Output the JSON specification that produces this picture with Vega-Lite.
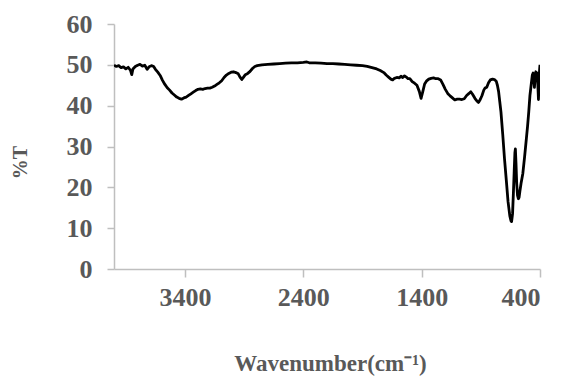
{
  "$schema": "https://vega.github.io/schema/vega-lite/v6.json",
  "width": 426,
  "height": 245,
  "autosize": "none",
  "padding": {"left": 114, "top": 24, "right": 21, "bottom": 107},
  "background": "white",
  "config": {"view": {"stroke": null}},
  "data": {"values": [
    {"wn":4000,"t":49.9},{"wn":3980,"t":49.6},{"wn":3960,"t":49.8},{"wn":3940,"t":49.3},{"wn":3920,"t":49.5},
    {"wn":3900,"t":49.0},{"wn":3880,"t":49.4},{"wn":3860,"t":48.6},{"wn":3850,"t":47.6},{"wn":3840,"t":49.0},
    {"wn":3820,"t":49.6},{"wn":3800,"t":49.9},{"wn":3780,"t":50.1},{"wn":3760,"t":49.7},{"wn":3740,"t":49.9},
    {"wn":3720,"t":48.9},{"wn":3700,"t":49.6},{"wn":3680,"t":49.8},{"wn":3665,"t":49.6},{"wn":3650,"t":48.9},
    {"wn":3630,"t":48.2},{"wn":3610,"t":47.4},{"wn":3590,"t":46.2},{"wn":3570,"t":45.2},{"wn":3550,"t":44.4},
    {"wn":3530,"t":43.8},{"wn":3510,"t":43.1},{"wn":3490,"t":42.6},{"wn":3470,"t":42.1},{"wn":3450,"t":41.8},
    {"wn":3430,"t":41.6},{"wn":3410,"t":41.9},{"wn":3390,"t":42.1},{"wn":3370,"t":42.5},{"wn":3350,"t":42.9},
    {"wn":3330,"t":43.3},{"wn":3310,"t":43.7},{"wn":3290,"t":44.0},{"wn":3270,"t":44.1},{"wn":3250,"t":44.0},
    {"wn":3230,"t":44.2},{"wn":3210,"t":44.3},{"wn":3190,"t":44.3},{"wn":3170,"t":44.5},{"wn":3150,"t":44.8},
    {"wn":3130,"t":45.2},{"wn":3110,"t":45.6},{"wn":3090,"t":46.1},{"wn":3070,"t":46.9},{"wn":3050,"t":47.5},
    {"wn":3030,"t":47.9},{"wn":3010,"t":48.2},{"wn":2990,"t":48.3},{"wn":2970,"t":48.1},{"wn":2950,"t":47.8},
    {"wn":2935,"t":47.0},{"wn":2920,"t":46.4},{"wn":2905,"t":47.0},{"wn":2890,"t":47.6},{"wn":2870,"t":47.9},
    {"wn":2850,"t":48.4},{"wn":2830,"t":49.1},{"wn":2810,"t":49.6},{"wn":2790,"t":49.8},{"wn":2750,"t":50.0},
    {"wn":2700,"t":50.1},{"wn":2650,"t":50.2},{"wn":2600,"t":50.3},{"wn":2550,"t":50.4},{"wn":2500,"t":50.5},
    {"wn":2450,"t":50.5},{"wn":2400,"t":50.6},{"wn":2370,"t":50.7},{"wn":2350,"t":50.5},{"wn":2300,"t":50.5},
    {"wn":2250,"t":50.4},{"wn":2200,"t":50.3},{"wn":2150,"t":50.3},{"wn":2100,"t":50.2},{"wn":2050,"t":50.1},
    {"wn":2000,"t":50.0},{"wn":1950,"t":49.9},{"wn":1900,"t":49.8},{"wn":1860,"t":49.6},{"wn":1820,"t":49.3},
    {"wn":1780,"t":49.0},{"wn":1750,"t":48.6},{"wn":1720,"t":48.1},{"wn":1700,"t":47.5},{"wn":1680,"t":47.0},
    {"wn":1660,"t":46.5},{"wn":1645,"t":46.3},{"wn":1630,"t":46.7},{"wn":1610,"t":46.9},{"wn":1590,"t":46.8},
    {"wn":1575,"t":47.2},{"wn":1560,"t":46.9},{"wn":1545,"t":47.3},{"wn":1530,"t":47.0},{"wn":1515,"t":46.6},
    {"wn":1500,"t":46.6},{"wn":1480,"t":45.9},{"wn":1460,"t":45.5},{"wn":1440,"t":45.0},{"wn":1420,"t":43.5},
    {"wn":1405,"t":41.8},{"wn":1390,"t":43.5},{"wn":1375,"t":45.3},{"wn":1360,"t":46.0},{"wn":1340,"t":46.5},
    {"wn":1320,"t":46.7},{"wn":1300,"t":46.8},{"wn":1280,"t":46.6},{"wn":1260,"t":46.6},{"wn":1240,"t":46.3},
    {"wn":1220,"t":45.2},{"wn":1200,"t":44.0},{"wn":1180,"t":43.0},{"wn":1160,"t":42.4},{"wn":1140,"t":41.9},
    {"wn":1120,"t":41.4},{"wn":1100,"t":41.6},{"wn":1080,"t":41.6},{"wn":1060,"t":41.5},{"wn":1040,"t":41.7},
    {"wn":1020,"t":42.5},{"wn":1000,"t":43.0},{"wn":985,"t":43.4},{"wn":970,"t":42.8},{"wn":950,"t":41.8},
    {"wn":935,"t":41.2},{"wn":920,"t":40.8},{"wn":905,"t":41.5},{"wn":890,"t":42.5},{"wn":875,"t":43.8},
    {"wn":865,"t":44.3},{"wn":850,"t":44.5},{"wn":835,"t":45.6},{"wn":820,"t":46.3},{"wn":800,"t":46.5},
    {"wn":785,"t":46.4},{"wn":770,"t":46.0},{"wn":760,"t":45.0},{"wn":750,"t":43.5},{"wn":740,"t":41.0},
    {"wn":730,"t":38.5},{"wn":715,"t":33.0},{"wn":700,"t":27.0},{"wn":685,"t":21.8},{"wn":670,"t":16.5},
    {"wn":655,"t":13.0},{"wn":645,"t":11.8},{"wn":640,"t":11.6},{"wn":632,"t":13.5},{"wn":625,"t":18.5},
    {"wn":618,"t":24.0},{"wn":612,"t":28.5},{"wn":608,"t":29.4},{"wn":603,"t":26.0},{"wn":597,"t":21.0},
    {"wn":590,"t":18.0},{"wn":583,"t":17.2},{"wn":577,"t":17.5},{"wn":570,"t":19.0},{"wn":560,"t":21.0},
    {"wn":545,"t":23.4},{"wn":530,"t":27.5},{"wn":515,"t":32.0},{"wn":505,"t":35.0},{"wn":495,"t":38.5},
    {"wn":485,"t":42.5},{"wn":475,"t":45.0},{"wn":465,"t":47.5},{"wn":458,"t":48.0},{"wn":452,"t":46.5},
    {"wn":447,"t":44.5},{"wn":441,"t":47.0},{"wn":435,"t":48.3},{"wn":430,"t":46.5},{"wn":424,"t":48.0},
    {"wn":418,"t":45.0},{"wn":413,"t":41.5},{"wn":408,"t":46.5},{"wn":403,"t":49.0},{"wn":400,"t":50.0}
  ]},
  "mark": {"type": "line", "color": "black", "strokeWidth": 2.8, "strokeJoin": "round", "clip": true},
  "encoding": {
    "x": {
      "field": "wn", "type": "quantitative",
      "scale": {"domain": [400, 4000], "reverse": true, "nice": false, "zero": false},
      "axis": {
        "values": [3400, 2400, 1400, 400],
        "format": "d",
        "title": "Wavenumber(cm⁻¹)",
        "grid": false,
        "domainColor": "#bfbfbf", "domainWidth": 1.5,
        "tickColor": "#bfbfbf", "tickWidth": 1.5, "tickSize": 8,
        "labelFont": "Liberation Serif", "labelFontWeight": "bold", "labelFontSize": 26,
        "labelColor": "#595959", "labelPadding": 7,
        "titleFont": "Liberation Serif", "titleFontWeight": "bold", "titleFontSize": 23,
        "titleColor": "#595959", "titleX": 216, "titleY": 94, "titleBaseline": "middle", "titleAlign": "center"
      }
    },
    "y": {
      "field": "t", "type": "quantitative",
      "scale": {"domain": [0, 60], "nice": false},
      "axis": {
        "values": [0, 10, 20, 30, 40, 50, 60],
        "title": "%T",
        "grid": false,
        "domainColor": "#bfbfbf", "domainWidth": 1.5,
        "tickColor": "#bfbfbf", "tickWidth": 1.5, "tickSize": 7,
        "labelFont": "Liberation Serif", "labelFontWeight": "bold", "labelFontSize": 26,
        "labelColor": "#595959", "labelPadding": 15,
        "titleFont": "Liberation Serif", "titleFontWeight": "bold", "titleFontSize": 20,
        "titleColor": "#595959", "titleX": -94, "titleY": 138, "titleBaseline": "middle", "titleAlign": "center", "titleAngle": 270
      }
    }
  }
}
